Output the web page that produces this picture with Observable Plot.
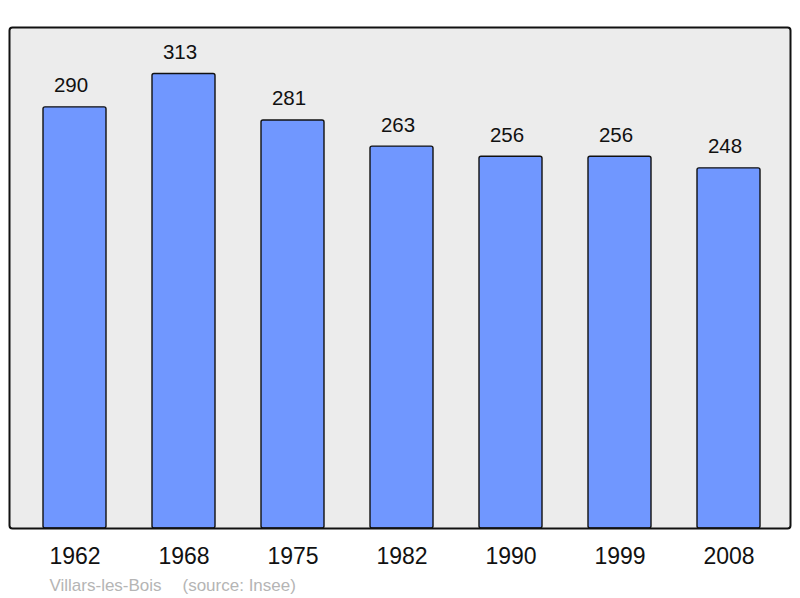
<!DOCTYPE html>
<html>
<head>
<meta charset="utf-8">
<script src="https://cdn.jsdelivr.net/npm/d3@7"></script>
<script src="https://cdn.jsdelivr.net/npm/@observablehq/plot@0.6"></script>
<style>
  html, body { margin: 0; padding: 0; background: #fff; }
  svg { display: block; }
</style>
</head>
<body>
<div id="chart"></div>
<script>
const years = ["1962", "1968", "1975", "1982", "1990", "1999", "2008"];
const population = [290, 313, 281, 263, 256, 256, 248];
const captionPlace = "Villars-les-Bois";
const captionSource = "(source: Insee)";

const data = years.map((y, i) => ({year: y, value: population[i]}));

const chart = Plot.plot({
  width: 800,
  height: 598,
  marginTop: 27,
  marginBottom: 70,
  marginLeft: 9,
  marginRight: 10,
  style: {fontFamily: "'Liberation Sans', Arial, sans-serif", background: "#fff"},
  x: {domain: years, range: [18.3, 783.9], paddingInner: 0.424, paddingOuter: 0.212, label: null},
  y: {domain: [0, 345], axis: null},
  marks: [
    Plot.frame({fill: "#ececec", stroke: "none", rx: 3}),
    Plot.barY(data, {x: "year", y: "value", fill: "#7097ff", stroke: "#111", strokeWidth: 1.4, rx: 2}),
    Plot.frame({stroke: "#111", strokeWidth: 2, rx: 3}),
    Plot.text(data, {x: "year", y: "value", text: d => String(d.value), lineAnchor: "bottom", dy: -15, dx: -4, fontSize: 20.5, fill: "#111"}),
    Plot.axisX({tickSize: 0, tickPadding: 19, fontSize: 23, fill: "#111", label: null}),
    Plot.text([captionPlace], {frameAnchor: "bottom-left", dx: 40, dy: 62, text: d => d, fontSize: 17, fill: "#b5b5b5", textAnchor: "start"}),
    Plot.text([captionSource], {frameAnchor: "bottom-left", dx: 173, dy: 62, text: d => d, fontSize: 17, fill: "#b5b5b5", textAnchor: "start"})
  ]
});
document.getElementById("chart").appendChild(chart);
</script>
</body>
</html>
